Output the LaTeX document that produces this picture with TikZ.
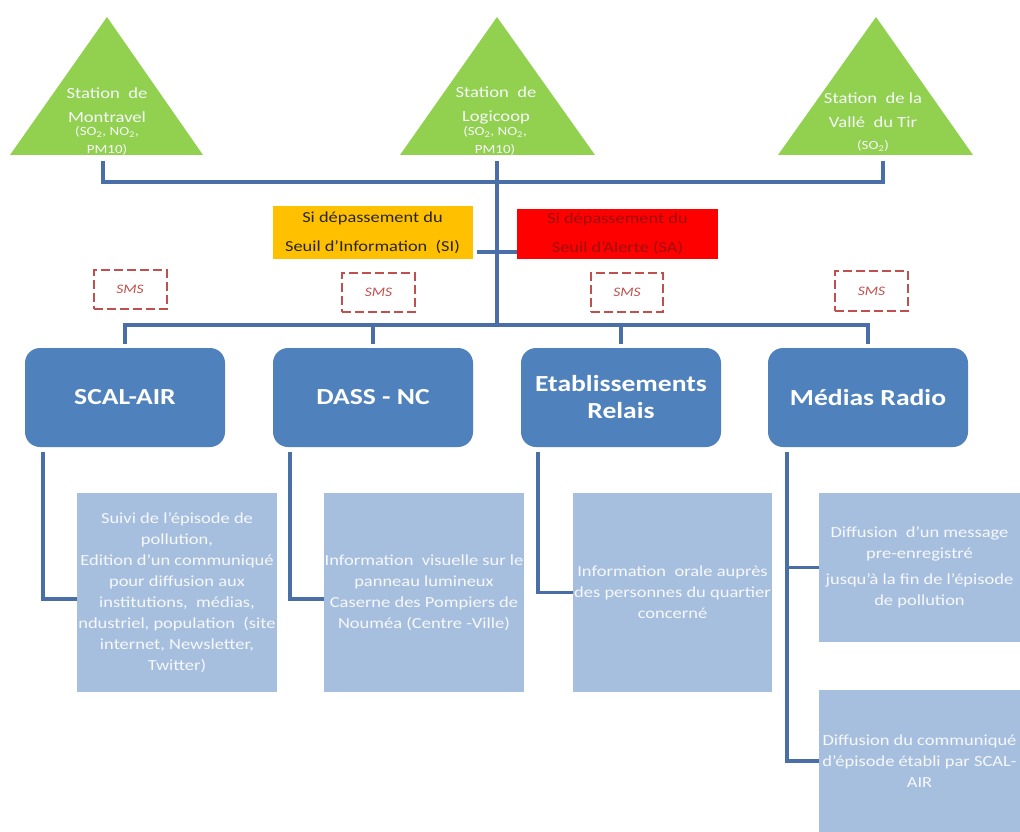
\documentclass[tikz,border=0pt]{standalone}
\usepackage{fontspec}
\setmainfont{Carlito}[FakeStretch=1.2]
\usetikzlibrary{calc}
\definecolor{trigreen}{HTML}{92D050}
\definecolor{linkblue}{HTML}{4A6FA8}
\definecolor{boxblue}{HTML}{4F81BD}
\definecolor{lightblue}{HTML}{A7BFDE}
\definecolor{orangebox}{HTML}{FFC000}
\definecolor{alertred}{HTML}{FF0000}
\definecolor{smsred}{HTML}{C0504D}
\definecolor{alerttext}{HTML}{9C1010}
\definecolor{softwhite}{HTML}{F6F8FB}
\begin{document}
\begin{tikzpicture}[x=1pt,y=-1pt,
  link/.style={draw=linkblue,line width=3.5pt},
  tri/.style={fill=trigreen},
  tritext/.style={text=softwhite,align=center,inner sep=0pt,font=\fontsize{15.5}{24}\selectfont},
  trisub/.style={text=softwhite,align=center,inner sep=0pt,font=\fontsize{12.5}{18}\selectfont},
  bluebox/.style={fill=boxblue,rounded corners=15pt,minimum width=200pt,minimum height=99pt,
    text=white,align=center,inner sep=0pt,font=\fontsize{23}{27}\selectfont\bfseries},
  lightbox/.style={fill=lightblue,minimum width=200pt,text=softwhite,align=center,inner sep=0pt,
    font=\fontsize{15.4}{21}\selectfont},
  smsbox/.style={draw=smsred,line width=2pt,dash pattern=on 9pt off 4pt,minimum width=73pt,
    minimum height=39pt,text=smsred,font=\fontsize{13}{15}\selectfont\itshape,inner sep=0pt},
  condbox/.style={minimum width=200pt,align=center,inner sep=0pt,font=\fontsize{15.3}{29}\selectfont}
]
\useasboundingbox[fill=white] (0,0) rectangle (1020,832);

% stations
\fill[tri] (10,155) -- (203,155) -- (107,17) -- cycle;
\fill[tri] (400,155) -- (595,155) -- (497,17) -- cycle;
\fill[tri] (778,155) -- (973,155) -- (876,17) -- cycle;
\node[tritext] (mont) at (107,105) {Station\ \ de\\Montravel};
\node[trisub] (montsub) at (107,141) {(SO\textsubscript{2},\ NO\textsubscript{2},\\PM10)};
\node[tritext] (logi) at (496,105) {Station\ \ de\\Logicoop};
\node[trisub] (logisub) at (495,141) {(SO\textsubscript{2},\ NO\textsubscript{2},\\PM10)};
\node[tritext] (tir) at (873,110) {Station\ \ de la\\Vallé\ \ du Tir};
\node[trisub] (tirsub) at (873,146) {(SO\textsubscript{2})};

\coordinate (mt) at (103,161);
\coordinate (lt) at (497,161);
\coordinate (vt) at (883,161);
\coordinate (topbar) at (497,182);
\coordinate (bus) at (497,325);

% condition boxes
\node[condbox,fill=orangebox,minimum height=53pt,text=black!85] (orange) at (372.5,232.5) {Si dépassement du\\Seuil d'Information\ \ (SI)};
\node[condbox,fill=alertred,minimum height=50pt,minimum width=201pt,text=alerttext] (red) at (617.5,234) {Si dépassement du\\Seuil d'Alerte (SA)};

% SMS boxes
\node[smsbox] (sms1) at (130,289.5) {SMS};
\node[smsbox] (sms2) at (378.5,292.5) {SMS};
\node[smsbox,minimum width=72pt] (sms3) at (627,292.5) {SMS};
\node[smsbox,minimum height=40pt] (sms4) at (871.5,291) {SMS};

% actors
\node[bluebox] (scal) at (125,397.5) {SCAL-AIR};
\node[bluebox] (dass) at (373,397.5) {DASS - NC};
\node[bluebox] (etab) at (621,397.5) {Etablissements\\Relais};
\node[bluebox] (medias) at (868,397.5) {Médias Radio};

% actions
\node[lightbox,minimum height=199pt] (b1) at (177,592.5) {Suivi de l'épisode de\\pollution,\\Edition d'un communiqué\\pour diffusion aux\\institutions,\ \ médias,\\ndustriel, population\ \ (site\\internet, Newsletter,\\Twitter)};
\node[lightbox,minimum height=199pt] (b2) at (424,592.5) {Information\ \ visuelle sur le\\panneau lumineux\\Caserne des Pompiers de\\Nouméa (Centre -Ville)};
\node[lightbox,minimum height=199pt,minimum width=199pt] (b3) at (672.5,592.5) {Information\ \ orale auprès\\des personnes du quartier\\concerné};
\node[lightbox,minimum height=149pt,minimum width=201pt] (b4a) at (919.5,567.5) {Diffusion\ \ d'un message\\pre-enregistré\\[5pt]jusqu'à la fin de l'épisode\\de pollution};
\node[lightbox,minimum height=142pt,minimum width=201pt] (b4b) at (919.5,761) {Diffusion du communiqué\\d'épisode établi par SCAL-\\AIR};

% connectors top
\draw[link] (mt) |- (topbar) -| (vt);
\draw[link] (lt) -- (bus);
\coordinate (oc) at ($(orange.east)+(4,19.5)$);
\draw[link] (oc) -- (oc -| red.west);

% bus to actors
\draw[link] ([yshift=4pt]scal.north) |- (bus) -| ([yshift=4pt]medias.north);
\draw[link] ([yshift=4pt]dass.north) -- (dass.north |- bus);
\draw[link] ([yshift=4pt]etab.north) -- (etab.north |- bus);

% actors to actions
\draw[link] ([xshift=-82pt,yshift=-5pt]scal.south) |- ([yshift=-6.5pt]b1.west);
\draw[link] ([xshift=-83pt,yshift=-5pt]dass.south) |- ([yshift=-6.5pt]b2.west);
\draw[link] ([xshift=-83pt,yshift=-5pt]etab.south) |- (b3.west);
\coordinate (mdrop) at ([xshift=-81pt,yshift=-5pt]medias.south);
\draw[link] (mdrop) |- (b4b.west);
\draw[link] (b4a.west) -- (b4a.west -| mdrop);
\end{tikzpicture}
\end{document}
